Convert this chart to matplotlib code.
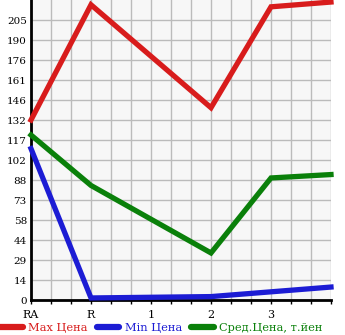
import numpy as np
import matplotlib
matplotlib.use("Agg")
import matplotlib.pyplot as plt
from matplotlib.ticker import MultipleLocator

# categories on the x axis (the last point has no label)
tick_labels = ["RA", "R", "1", "2", "3"]
x_pos = [0, 1, 3, 4, 5]  # no value for "1"

max_price = [132, 216.5, 141, 215, 218.5]
min_price = [111, 1.5, 2.5, 6, 9.5]
avg_price = [121, 84, 34.5, 89.5, 92]

y_ticks = np.arange(0, 220, 220 / 15)

red = "#d81c1c"
blue = "#1c1cd4"
green = "#0a800a"

fig = plt.figure(figsize=(3.45, 3.35), dpi=100)
ax = fig.add_axes([31 / 345, 35 / 335, 300 / 345, 300 / 335])
ax.set_facecolor("#f7f7f7")

for vals, c, lab in [(max_price, red, "Max Цена"),
                     (min_price, blue, "Min Цена"),
                     (avg_price, green, "Сред.Цена, т.йен")]:
    ax.plot(x_pos, vals, color=c, lw=3.8, label=lab, clip_on=False,
            solid_joinstyle="miter", zorder=3)

ax.set_xlim(0, 5)
ax.set_ylim(0, 220)
ax.set_yticks(y_ticks)
ax.set_yticklabels([str(int(v)) for v in y_ticks])
ax.set_xticks(range(len(tick_labels)))
ax.set_xticklabels(tick_labels)
ax.xaxis.set_minor_locator(MultipleLocator(1 / 3))
ax.grid(True, which="both", color="#bbbbbb", lw=1)
ax.set_axisbelow(True)

for s in ["top", "right"]:
    ax.spines[s].set_visible(False)
ax.spines["left"].set_linewidth(2)
ax.spines["bottom"].set_linewidth(2)

ax.tick_params(axis="y", length=0, pad=3, labelsize=7.5)
ax.tick_params(axis="x", which="both", length=3, width=1, pad=4, labelsize=8)
for t in ax.get_xticklabels() + ax.get_yticklabels():
    t.set_fontfamily("DejaVu Serif")

leg = ax.legend(loc="upper left", bbox_to_anchor=(-31 / 300, -0.078), ncol=3,
                frameon=False, handlelength=2.0, handletextpad=0.5,
                columnspacing=0.75, borderaxespad=0, borderpad=0,
                prop={"family": "DejaVu Serif", "size": 8.2})
for txt, c in zip(leg.get_texts(), [red, blue, green]):
    txt.set_color(c)
for h in leg.get_lines():
    h.set_linewidth(4.5)
    h.set_solid_capstyle("round")

fig.savefig("out.png", dpi=100)
